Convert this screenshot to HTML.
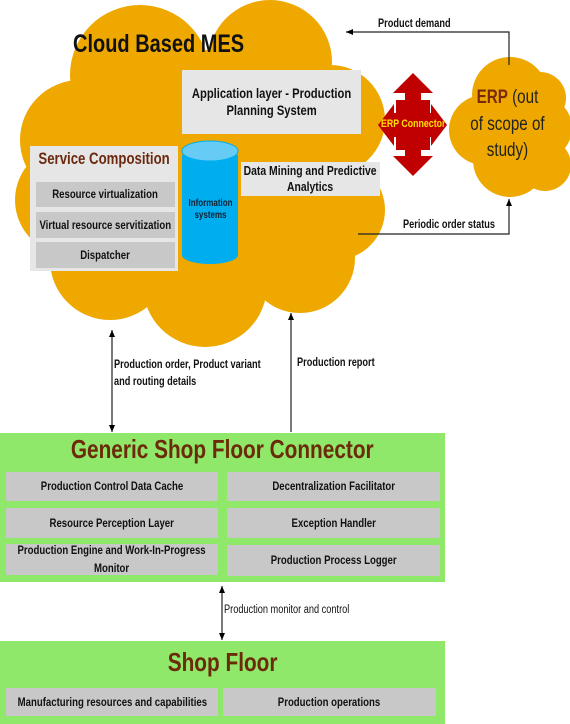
<!DOCTYPE html>
<html><head><meta charset="utf-8"><style>
body{margin:0;width:570px;height:724px;position:relative;background:#fff;font-family:"Liberation Sans",Arial,sans-serif;overflow:hidden}
.a{position:absolute;box-sizing:border-box;display:flex;align-items:center;justify-content:center;text-align:center;font-weight:bold;color:#111;font-size:12px;line-height:1.25;white-space:nowrap}
.a>span,.t>span{display:inline-block;transform:scaleX(.8)}
.g{background:#c8c8c8}
.l{background:#e6e6e6}
.t{position:absolute;font-weight:bold;font-size:11.5px;color:#111;white-space:nowrap}
.t>span{transform-origin:0 0}
svg{position:absolute;left:0;top:0}
</style></head><body>
<svg width="570" height="724">
<defs><marker id="ar" markerWidth="8" markerHeight="8" refX="7" refY="4" orient="auto" markerUnits="userSpaceOnUse"><path d="M0,1 L7,4 L0,7 z" fill="#000"/></marker></defs>
<g fill="#eea800">
<circle cx="140" cy="75" r="70"/><circle cx="270" cy="62" r="62"/><circle cx="330" cy="120" r="55"/>
<circle cx="335" cy="210" r="50"/><circle cx="300" cy="258" r="55"/><circle cx="205" cy="285" r="62"/>
<circle cx="110" cy="260" r="60"/><circle cx="70" cy="200" r="55"/><circle cx="80" cy="140" r="60"/>
<ellipse cx="200" cy="180" rx="150" ry="130"/>
<circle cx="510" cy="95" r="38"/><circle cx="484" cy="130" r="35"/><circle cx="540" cy="128" r="32"/><circle cx="510" cy="160" r="37"/><circle cx="540" cy="98" r="26"/><circle cx="545" cy="165" r="26"/>
</g>
<g fill="#c00000">
<rect x="396" y="100" width="34" height="50"/>
<rect x="405" y="88" width="16" height="74"/>
<rect x="388" y="113" width="50" height="24"/>
<polygon points="413,73 433,93 393,93"/><polygon points="413,176 433,156 393,156"/>
<polygon points="378,125 394,104 394,146"/><polygon points="447,125 431,104 431,146"/>
</g>
<rect x="182" y="155" width="56" height="100" fill="#00aeef"/>
<ellipse cx="210" cy="255" rx="28" ry="9" fill="#00aeef"/>
<ellipse cx="210" cy="151" rx="28" ry="10" fill="#66ccf5" stroke="#00aeef"/>
<g stroke="#222" stroke-width="1.2" fill="none">
<polyline points="509,65 509,32 346,32" marker-end="url(#ar)"/>
<polyline points="358,234 509,234 509,199" marker-end="url(#ar)"/>
<line x1="112" y1="340" x2="112" y2="330" marker-end="url(#ar)"/>
<line x1="112" y1="340" x2="112" y2="432" marker-end="url(#ar)"/>
<line x1="291" y1="432" x2="291" y2="313" marker-end="url(#ar)"/>
<line x1="222" y1="612" x2="222" y2="586" marker-end="url(#ar)"/>
<line x1="222" y1="612" x2="222" y2="640" marker-end="url(#ar)"/>
</g>
<rect x="0" y="433" width="445" height="149" fill="#90e86a"/>
<rect x="0" y="641" width="445" height="83" fill="#90e86a"/>
</svg>
<div class="t" style="left:73px;top:30px;font-size:25px"><span style="transform:scaleX(.8)">Cloud Based MES</span></div>
<div class="a l" style="left:182px;top:70px;width:179px;height:64px;font-size:14px"><span>Application layer - Production<br>Planning System</span></div>
<div class="a l" style="left:30px;top:146px;width:148px;height:125px;align-items:flex-start;padding-top:3px;font-size:16.5px;color:#6b2a10"><span>Service Composition</span></div>
<div class="a g" style="left:36px;top:182px;width:139px;height:25px"><span>Resource virtualization</span></div>
<div class="a g" style="left:36px;top:212px;width:139px;height:26px"><span>Virtual resource servitization</span></div>
<div class="a g" style="left:36px;top:242px;width:139px;height:26px"><span>Dispatcher</span></div>
<div class="a" style="left:182px;top:195px;width:56px;height:30px;font-size:10px;color:#123"><span>Information<br>systems</span></div>
<div class="a l" style="left:241px;top:162px;width:139px;height:34px;font-size:13px"><span>Data Mining and Predictive<br>Analytics</span></div>
<div class="a" style="left:378px;top:116px;width:70px;height:18px;font-size:11px;color:#ffe000"><span>ERP Connector</span></div>
<div class="a" style="left:452px;top:85px;width:110px;height:80px;font-size:19px;font-weight:normal;line-height:1.4;color:#222"><span><b style="color:#7a2a0a">ERP</b> (out<br>of scope of<br>study)</span></div>
<div class="t" style="left:378px;top:18px"><span>Product demand</span></div>
<div class="t" style="left:403px;top:219px"><span>Periodic order status</span></div>
<div class="t" style="left:114px;top:357px;line-height:17px"><span>Production order, Product variant<br>and routing details</span></div>
<div class="t" style="left:297px;top:357px"><span>Production report</span></div>
<div class="a" style="left:0;top:434px;width:445px;height:30px;font-size:26px;color:#6b2a08"><span>Generic Shop Floor Connector</span></div>
<div class="a g" style="left:6px;top:472px;width:212px;height:29px"><span>Production Control Data Cache</span></div>
<div class="a g" style="left:227px;top:472px;width:213px;height:29px"><span>Decentralization Facilitator</span></div>
<div class="a g" style="left:6px;top:508px;width:212px;height:30px"><span>Resource Perception Layer</span></div>
<div class="a g" style="left:227px;top:508px;width:213px;height:30px"><span>Exception Handler</span></div>
<div class="a g" style="left:6px;top:544px;width:212px;height:31px;line-height:1.45"><span>Production Engine and Work-In-Progress<br>Monitor</span></div>
<div class="a g" style="left:227px;top:545px;width:213px;height:31px"><span>Production Process Logger</span></div>
<div class="t" style="left:224px;top:604px;font-weight:normal"><span>Production monitor and control</span></div>
<div class="a" style="left:0;top:646px;width:445px;height:32px;font-size:26px;color:#6b2a08"><span>Shop Floor</span></div>
<div class="a g" style="left:6px;top:688px;width:212px;height:28px"><span>Manufacturing resources and capabilities</span></div>
<div class="a g" style="left:223px;top:688px;width:213px;height:28px"><span>Production operations</span></div>
</body></html>
